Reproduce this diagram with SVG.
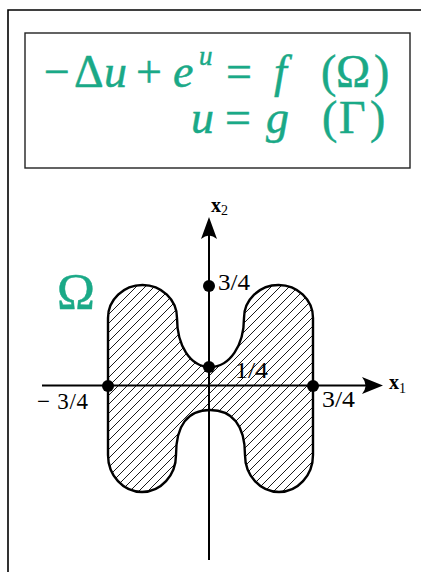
<svg xmlns="http://www.w3.org/2000/svg" width="421" height="572" viewBox="0 0 421 572">
<style>
.eq{font-family:"Liberation Serif","Times New Roman",serif;font-size:46px;fill:#1aa987;stroke:#1aa987;stroke-width:0.5}
.it{font-style:italic}
.lbl{font-family:"Liberation Serif","Times New Roman",serif;font-size:23px;fill:#000}
.ax{font-family:"Liberation Serif","Times New Roman",serif;font-size:20px;font-weight:bold;fill:#000}
.sub{font-size:14px;font-weight:normal}
.line{stroke:#000;stroke-width:2;fill:none}
.dot{fill:#000}
</style>
<defs>
<pattern id="hatch" patternUnits="userSpaceOnUse" width="9" height="9">
<path d="M0,9 L9,0 M-1,1 L1,-1 M8,10 L10,8" stroke="#000" stroke-width="0.9"/>
</pattern>
</defs>
<rect width="421" height="572" fill="#fff"/>
<path d="M8,572 V10 H421" fill="none" stroke="#000" stroke-width="1.6"/>
<g id="equation-box">
<rect x="25" y="33" width="385" height="135" fill="#fff" stroke="#222" stroke-width="1.4"/>
<text class="eq" y="87"><tspan x="44">−</tspan><tspan x="74">Δ</tspan><tspan x="104" class="it">u</tspan><tspan x="136">+</tspan><tspan x="173" class="it">e</tspan><tspan x="226">=</tspan><tspan x="274" class="it">f</tspan><tspan x="321">(</tspan><tspan x="336">Ω</tspan><tspan x="374">)</tspan></text>
<text class="eq it" x="199" y="65" style="font-size:27px">u</text>
<text class="eq" y="133"><tspan x="191" class="it">u</tspan><tspan x="225">=</tspan><tspan x="266" class="it">g</tspan><tspan x="322">(</tspan><tspan x="339">Γ</tspan><tspan x="370">)</tspan></text>
</g>
<g id="omega-label">
<text x="76" y="308" text-anchor="middle" style="font-family:'Liberation Serif','Times New Roman',serif;font-size:51px;fill:#1aa987;stroke:#1aa987;stroke-width:0.5">Ω</text>
</g>
<g id="domain">
<path d="M108,318 A34.5,33 0 0 1 142.5,285 A34.5,33 0 0 1 177,318 C177,345 190,367 210,367 C230,367 244,345 244,318 A34.5,33 0 0 1 278.5,285 A34.5,33 0 0 1 313,318 V455 A34,37 0 0 1 279,492 A34,37 0 0 1 245,455 C245,425 232,410 210,410 C188,410 176,425 176,455 A34,37 0 0 1 142,492 A34,37 0 0 1 108,455 Z" fill="url(#hatch)" stroke="#000" stroke-width="2.4"/>
</g>
<g id="connectors">
<line class="line" x1="42" y1="385.5" x2="378" y2="385.5"/>
<path d="M383,385.5 L362,377 Q369,385.5 362,394 Z" fill="#000"/>
<line class="line" x1="209" y1="560" x2="209" y2="224"/>
<path d="M209,217 L217,239 Q209,232 201,239 Z" fill="#000"/>
</g>
<g id="axis-labels">
<text class="ax" x="211" y="212">x<tspan class="sub" dy="3">2</tspan></text>
<text class="ax" x="389" y="389">x<tspan class="sub" dy="4">1</tspan></text>
</g>
<g id="points">
<circle class="dot" cx="209" cy="286" r="6"/>
<circle class="dot" cx="209" cy="367" r="6"/>
<circle class="dot" cx="108" cy="386" r="6"/>
<circle class="dot" cx="313" cy="386" r="6"/>
<text class="lbl" x="218" y="290" textLength="32" lengthAdjust="spacingAndGlyphs">3/4</text>
<text class="lbl" x="235" y="378" textLength="33" lengthAdjust="spacingAndGlyphs">1/4</text>
<text class="lbl" x="37" y="409" textLength="51" lengthAdjust="spacing">− 3/4</text>
<text class="lbl" x="322" y="407" textLength="33" lengthAdjust="spacingAndGlyphs">3/4</text>
</g>
</svg>
